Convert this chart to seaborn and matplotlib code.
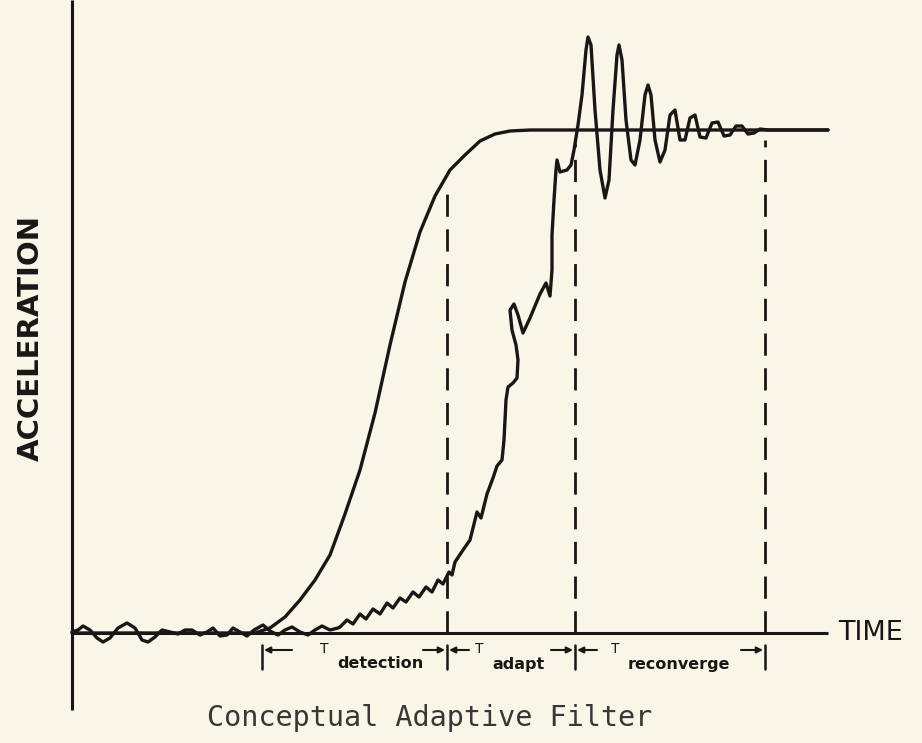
import matplotlib
matplotlib.use("Agg")
import matplotlib.pyplot as plt
import seaborn as sns
import pandas as pd

# ---- data (time in arbitrary units from origin, acceleration in arbitrary units; steady level = 503)
ideal_time = [0, 183, 198, 213, 228, 243, 258, 273, 288, 303, 318, 333, 348, 363, 378,
              393, 408, 423, 438, 458, 756]
ideal_acc = [0, 0, 5, 16, 33, 53, 78, 119, 163, 220, 288, 351, 401, 437, 463,
             478, 492, 499, 502, 503, 503]

resp_px = [72, 78, 83, 90, 97, 103, 110, 118, 127, 135, 142, 148, 155, 162, 170, 178, 185, 192,
           200, 207, 213, 220, 227, 233, 240, 247, 254, 263, 270, 278, 285, 292, 300, 308, 315,
           322, 330, 338, 340, 347, 353, 360, 366, 373, 380, 387, 393, 400, 406, 413, 419, 426,
           432, 438, 443, 449, 452, 455, 463, 470, 477, 481, 487, 493, 497, 502, 504, 506, 508,
           513, 517, 518, 516, 512, 510, 514, 518, 523, 530, 540, 546, 550, 552, 552, 554, 556,
           557, 560, 567, 571, 574, 578, 582, 586, 588, 591, 595, 600, 605, 609, 613, 617, 619,
           622, 626, 631, 635, 640, 645, 648, 651, 655, 660, 665, 670, 675, 680, 685, 690, 695,
           700, 706, 712, 718, 724, 730, 736, 742, 748, 754, 760, 768, 828]
resp_py = [632, 630, 626, 630, 638, 642, 638, 628, 623, 628, 640, 642, 637, 630, 632, 634, 630, 630,
           635, 632, 628, 636, 635, 628, 632, 636, 630, 625, 631, 635, 630, 627, 632, 635, 630,
           626, 630, 628, 627, 620, 624, 614, 619, 609, 614, 603, 608, 598, 602, 592, 597, 587,
           592, 580, 584, 572, 575, 562, 550, 540, 512, 518, 494, 478, 466, 460, 440, 400, 387,
           383, 378, 360, 345, 330, 310, 304, 315, 333, 318, 294, 283, 296, 270, 235, 200, 170,
           160, 172, 170, 165, 150, 125, 95, 50, 37, 45, 110, 170, 198, 180, 110, 55, 45,
           60, 120, 160, 165, 140, 95, 85, 95, 140, 162, 150, 115, 110, 140, 140, 118, 115,
           137, 138, 123, 122, 136, 135, 126, 126, 134, 133, 129, 130, 130]
resp_time = [p - 72 for p in resp_px]
resp_acc = [633 - p for p in resp_py]

# phase boundaries (time) and dashed-line tops (acceleration)
phase_bounds = [375, 503, 693]
phase_tops = [448, 490, 493]
phase_start = 190
phase_names = ["detection", "adapt", "reconverge"]

BG = "#f8f6e7"
INK = "#1b1616"

sns.set_theme(style="white", rc={"axes.facecolor": BG, "figure.facecolor": BG})

fig = plt.figure(figsize=(9.22, 7.43), dpi=100)
ax = fig.add_axes([0, 0, 1, 1])
ax.set_xlim(-72, 850)
ax.set_ylim(-110, 633)
for s in ax.spines.values():
    s.set_visible(False)
ax.set_xticks([])
ax.set_yticks([])

# axes lines
ax.plot([0, 0], [-77, 633], color=INK, lw=2.2, solid_capstyle="butt")
ax.plot([0, 756], [0, 0], color=INK, lw=2.2, solid_capstyle="butt")

# curves
df_ideal = pd.DataFrame({"time": ideal_time, "acc": ideal_acc})
df_resp = pd.DataFrame({"time": resp_time, "acc": resp_acc})
sns.lineplot(data=df_ideal, x="time", y="acc", ax=ax, color=INK, lw=2.4,
             estimator=None, sort=False, solid_joinstyle="round", solid_capstyle="round")
sns.lineplot(data=df_resp, x="time", y="acc", ax=ax, color=INK, lw=2.4,
             estimator=None, sort=False, solid_joinstyle="round", solid_capstyle="round")
ax.set_xlabel("")
ax.set_ylabel("")

# dashed phase boundaries
for xb, top in zip(phase_bounds, phase_tops):
    ax.plot([xb, xb], [0, top], color=INK, lw=2.0, dashes=(8, 4.5))

# bracket ticks
edges = [phase_start] + phase_bounds
for xe in edges:
    ax.plot([xe, xe], [-12, -36], color=INK, lw=1.8)

# arrows and labels per phase
ya = -17
for i, name in enumerate(phase_names):
    x0, x1 = edges[i], edges[i + 1]
    ax.annotate("", xy=(x0 + 2, ya), xytext=(x0 + (30 if i == 0 else 22), ya),
                arrowprops=dict(arrowstyle="-|>", color=INK, lw=1.5,
                                mutation_scale=9, shrinkA=0, shrinkB=0))
    ax.annotate("", xy=(x1 - 2, ya), xytext=(x1 - 24, ya),
                arrowprops=dict(arrowstyle="-|>", color=INK, lw=1.5,
                                mutation_scale=9, shrinkA=0, shrinkB=0))
    tx = {0: 252, 1: 407, 2: 543}[i]
    ax.text(tx, ya + 1, "T", fontsize=10, color=INK, ha="center", va="center")
    ax.text(tx + 13, -31, name, fontsize=11.5, fontweight="bold", color=INK,
            ha="left", va="center")

# axis labels
ax.text(766, 0, "TIME", fontsize=19.5, color=INK, ha="left", va="center")
ax.text(-41, 295, "ACCELERATION", fontsize=21, fontweight="bold", color=INK,
        rotation=90, ha="center", va="center")
ax.text(358, -85, "Conceptual Adaptive Filter", fontsize=20.5, color="#3a3636",
        family=["DejaVu Sans Mono"], ha="center", va="center")

fig.savefig("out.png", dpi=100, facecolor=BG)
